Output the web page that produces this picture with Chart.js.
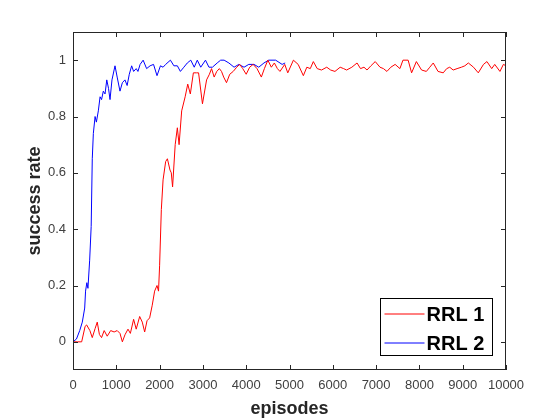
<!DOCTYPE html>
<html>
<head>
<meta charset="utf-8">
<script src="https://cdn.jsdelivr.net/npm/chart.js@4/dist/chart.umd.min.js"></script>
<style>
  html, body { margin: 0; padding: 0; background: #fff; }
  canvas { display: block; }
</style>
</head>
<body>
<canvas id="successChart" width="560" height="420"></canvas>
<script>
// RRL 1 (red) - episodes / success rate
var rrl1Episodes = [0, 100, 200, 280, 315, 390, 445, 510, 560, 610, 660, 720, 790, 870, 950, 1020, 1085, 1140, 1200, 1270,
  1325, 1400, 1460, 1540, 1600, 1655, 1710, 1770, 1830, 1885, 1940, 1975, 2000, 2040, 2080, 2140, 2180, 2240, 2270, 2300,
  2360, 2410, 2450, 2510, 2590, 2650, 2710, 2780, 2850, 2900, 2990, 3085, 3150, 3200, 3260, 3320, 3380, 3430, 3480, 3545,
  3620, 3700, 3780, 3850, 3920, 4000, 4080, 4160, 4250, 4350, 4420, 4500, 4580, 4650, 4720, 4780, 4890, 4960, 5090, 5200,
  5320, 5400, 5480, 5550, 5640, 5740, 5860, 5950, 6050, 6170, 6250, 6320, 6440, 6560, 6640, 6720, 6790, 6880, 6980, 7090,
  7170, 7250, 7340, 7440, 7550, 7620, 7740, 7820, 7930, 8050, 8160, 8240, 8320, 8430, 8550, 8630, 8700, 8780, 8870, 8970,
  9050, 9130, 9250, 9360, 9480, 9560, 9670, 9740, 9860, 9940, 10000];
var rrl1Rate = [0, 0, 0, 0.055, 0.06, 0.04, 0.015, 0.047, 0.07, 0.026, 0.015, 0.04, 0.02, 0.04, 0.035, 0.04, 0.03, 0.0, 0.025, 0.045,
  0.03, 0.08, 0.045, 0.09, 0.07, 0.035, 0.075, 0.085, 0.13, 0.18, 0.2, 0.18, 0.27, 0.47, 0.575, 0.64, 0.65, 0.61, 0.6, 0.55,
  0.70, 0.76, 0.70, 0.82, 0.87, 0.915, 0.88, 0.955, 0.955, 0.955, 0.845, 0.93, 0.95, 0.97, 0.94, 0.96, 0.97, 0.96, 0.94, 0.92,
  0.95, 0.96, 0.975, 0.985, 0.97, 0.95, 0.975, 0.985, 0.97, 0.94, 0.97, 1.0, 0.975, 0.99, 0.97, 0.96, 0.985, 0.955, 1.0, 0.985,
  0.945, 0.975, 0.97, 0.995, 0.97, 0.965, 0.975, 0.965, 0.96, 0.975, 0.97, 0.965, 0.975, 0.99, 0.97, 0.975, 0.965, 0.98, 0.995, 0.975,
  0.97, 0.96, 0.975, 0.985, 0.97, 1.0, 1.0, 0.955, 0.995, 0.965, 0.96, 0.975, 0.99, 0.96, 0.955, 0.97, 0.975, 0.965, 0.97, 0.975,
  0.98, 0.99, 0.975, 0.955, 0.985, 0.995, 0.97, 0.985, 0.96, 0.985, 0.98];

// RRL 2 (blue)
var rrl2Episodes = [0, 80, 155, 215, 270, 290, 320, 345, 385, 420, 445, 470, 510, 540, 585, 625, 660, 700, 740, 780,
  820, 855, 900, 970, 1020, 1085, 1140, 1200, 1250, 1300, 1355, 1400, 1460, 1500, 1550, 1620, 1700, 1780, 1860, 1940,
  2020, 2080, 2140, 2250, 2330, 2410, 2480, 2560, 2640, 2720, 2800, 2870, 2950, 3060, 3140, 3220, 3330, 3410, 3490, 3600,
  3720, 3830, 3950, 4060, 4180, 4290, 4410, 4520, 4680, 4830, 4900];
var rrl2Rate = [0, 0.01, 0.04, 0.07, 0.12, 0.18, 0.21, 0.19, 0.29, 0.41, 0.65, 0.74, 0.80, 0.78, 0.82, 0.87, 0.86, 0.89, 0.88, 0.93,
  0.90, 0.86, 0.93, 0.98, 0.94, 0.89, 0.92, 0.93, 0.91, 0.95, 0.98, 0.96, 0.97, 0.96, 0.985, 1.0, 0.97, 0.98, 0.985, 0.945,
  0.98, 0.975, 0.985, 1.0, 0.98, 0.98, 0.96, 0.975, 0.99, 1.0, 0.975, 1.0, 0.975, 1.0, 0.975, 0.975, 0.99, 1.0, 1.0, 0.99,
  0.975, 0.985, 0.975, 0.985, 0.985, 0.975, 0.99, 1.0, 1.0, 0.985, 0.99];

var seriesLabels = ['RRL 1', 'RRL 2'];
var xTicks = [0, 1000, 2000, 3000, 4000, 5000, 6000, 7000, 8000, 9000, 10000];
var yTicks = [0, 0.2, 0.4, 0.6, 0.8, 1];

function toPoints(xs, ys) {
  return xs.map(function (x, i) { return { x: x, y: ys[i] }; });
}

// caja, marcas hacia dentro y leyenda al estilo MATLAB
var boxPlugin = {
  id: 'boxPlugin',
  afterDraw: function (chart) {
    var ctx = chart.ctx;
    var a = chart.chartArea;
    var xs = chart.scales.x, ys = chart.scales.y;
    ctx.save();
    ctx.strokeStyle = '#262626';
    ctx.lineWidth = 1;
    ctx.strokeRect(Math.round(a.left) + 0.5, Math.round(a.top) + 0.5,
      Math.round(a.right - a.left) - 1, Math.round(a.bottom - a.top) - 1);
    ctx.beginPath();
    xs.ticks.forEach(function (t) {
      var px = Math.round(xs.getPixelForValue(t.value)) + 0.5;
      ctx.moveTo(px, a.bottom); ctx.lineTo(px, a.bottom - 5);
      ctx.moveTo(px, a.top); ctx.lineTo(px, a.top + 5);
    });
    ys.ticks.forEach(function (t) {
      var py = Math.round(ys.getPixelForValue(t.value)) + 0.5;
      ctx.moveTo(a.left, py); ctx.lineTo(a.left + 5, py);
      ctx.moveTo(a.right, py); ctx.lineTo(a.right - 5, py);
    });
    ctx.stroke();

    // leyenda
    var bx = 380.5, by = 298.5, bw = 112, bh = 57;
    ctx.fillStyle = '#fff';
    ctx.fillRect(bx, by, bw, bh);
    ctx.strokeStyle = '#000';
    ctx.strokeRect(bx, by, bw, bh);
    ctx.font = 'bold 20px "Liberation Sans", Arial, sans-serif';
    ctx.textBaseline = 'middle';
    chart.data.datasets.forEach(function (ds, i) {
      var ry = by + 15.5 + i * 29;
      ctx.strokeStyle = ds.borderColor;
      ctx.beginPath();
      ctx.moveTo(bx + 4, ry); ctx.lineTo(bx + 44, ry);
      ctx.stroke();
      ctx.fillStyle = '#000';
      ctx.fillText(ds.label, bx + 46, ry + 1);
    });
    ctx.restore();
  }
};

var ctx = document.getElementById('successChart').getContext('2d');
var chart = new Chart(ctx, {
  type: 'line',
  data: {
    datasets: [{
      label: seriesLabels[0],
      data: toPoints(rrl1Episodes, rrl1Rate),
      borderColor: '#ff0000',
      borderWidth: 1,
      pointRadius: 0,
      tension: 0
    }, {
      label: seriesLabels[1],
      data: toPoints(rrl2Episodes, rrl2Rate),
      borderColor: '#0000ff',
      borderWidth: 1,
      pointRadius: 0,
      tension: 0
    }]
  },
  options: {
    responsive: false,
    animation: false,
    layout: { padding: { top: 32, right: 54, left: 0, bottom: 0 } },
    plugins: { legend: { display: false }, tooltip: { enabled: false } },
    scales: {
      x: {
        type: 'linear',
        min: 0,
        max: 10000,
        afterBuildTicks: function (s) { s.ticks = xTicks.map(function (v) { return { value: v }; }); },
        afterFit: function (s) { s.height = 50; },
        grid: { display: false, drawTicks: false },
        border: { display: false },
        ticks: {
          padding: 8,
          color: '#404040',
          font: { family: '"Liberation Sans", Arial, sans-serif', size: 13 },
          maxRotation: 0,
          callback: function (v) { return String(v); }
        },
        title: {
          display: true,
          text: 'episodes',
          color: '#262626',
          padding: { top: 0, bottom: 0 },
          font: { family: '"Liberation Sans", Arial, sans-serif', size: 18, weight: 'bold' }
        }
      },
      y: {
        min: -0.1,
        max: 1.1,
        afterBuildTicks: function (s) { s.ticks = yTicks.map(function (v) { return { value: v }; }); },
        afterFit: function (s) { s.width = 73; },
        grid: { display: false, drawTicks: false },
        border: { display: false },
        ticks: {
          padding: 7,
          color: '#404040',
          font: { family: '"Liberation Sans", Arial, sans-serif', size: 13 },
          callback: function (v) { return String(Math.round(v * 10) / 10); }
        },
        title: {
          display: true,
          text: 'success rate',
          color: '#262626',
          padding: { top: 24, bottom: 0 },
          font: { family: '"Liberation Sans", Arial, sans-serif', size: 18, weight: 'bold' }
        }
      }
    }
  },
  plugins: [boxPlugin]
});
</script>
</body>
</html>
